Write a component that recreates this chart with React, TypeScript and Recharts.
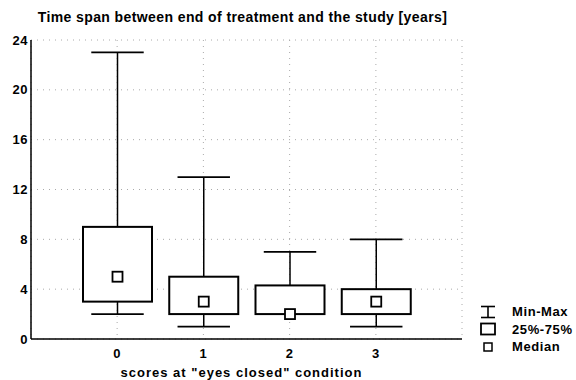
import React from 'react';
import { ComposedChart, Bar, XAxis, YAxis, CartesianGrid } from 'recharts';

const categories = ['0', '1', '2', '3'];
const minValues = [2, 1, 2, 1];
const q1Values = [3, 2, 2, 2];
const medianValues = [5, 3, 2, 3];
const q3Values = [9, 5, 4.3, 4];
const maxValues = [23, 13, 7, 8];
const yTicks = [0, 4, 8, 12, 16, 20, 24];
const rightTicks = Array.from({ length: 25 }, (_, i) => i);

const data = categories.map((c, i) => ({
  cat: c,
  min: minValues[i],
  q1: q1Values[i],
  median: medianValues[i],
  q3: q3Values[i],
  max: maxValues[i],
}));

const FONT = '"Liberation Sans", Arial, sans-serif';

const BoxShape = (props: any) => {
  const { x, y, width, height, payload } = props;
  if (!payload) return null;
  const { min, q1, median, q3, max } = payload;
  const top = Math.min(y, y + height);
  const bottom = Math.max(y, y + height);
  const span = max - min;
  const py = (v: number) => bottom - ((v - min) / span) * (bottom - top);
  const cx = x + width / 2;
  const capW = width * 0.76;
  const m = py(median);
  const ms = 5;
  return (
    <g stroke="#000" fill="none">
      <line x1={cx} x2={cx} y1={py(max)} y2={py(q3)} strokeWidth={1.5} />
      <line x1={cx} x2={cx} y1={py(q1)} y2={py(min)} strokeWidth={1.5} />
      <line x1={cx - capW / 2} x2={cx + capW / 2} y1={py(max)} y2={py(max)} strokeWidth={1.8} />
      <line x1={cx - capW / 2} x2={cx + capW / 2} y1={py(min)} y2={py(min)} strokeWidth={1.8} />
      <rect x={x} y={py(q3)} width={width} height={py(q1) - py(q3)} fill="#fff" strokeWidth={2} />
      <rect x={cx - ms} y={m - ms} width={ms * 2} height={ms * 2} fill="#fff" strokeWidth={1.8} />
    </g>
  );
};

const tickStyle = { fill: '#000', fontSize: 13, fontWeight: 'bold', fontFamily: FONT, letterSpacing: 0.5 };

export default function App() {
  return (
    <div style={{ position: 'relative', width: 576, height: 380, background: '#fff', fontFamily: FONT }}>
      <style>{`body{margin:0}`}</style>
      <div
        style={{
          position: 'absolute',
          left: 0,
          top: 9,
          width: 485,
          textAlign: 'center',
          fontSize: 14,
          letterSpacing: 0.4,
          fontWeight: 'bold',
          color: '#000',
        }}
      >
        Time span between end of treatment and the study [years]
      </div>
      <ComposedChart
        width={576}
        height={380}
        data={data}
        margin={{ top: 40, right: 114, left: 0, bottom: 0 }}
      >
        <CartesianGrid stroke="#aaa" strokeDasharray="1 5" />
        <XAxis
          dataKey="cat"
          padding={{ left: 43, right: 43 }}
          height={41}
          tick={tickStyle}
          tickLine={false}
          tickSize={0}
          tickMargin={10}
          axisLine={{ stroke: '#000', strokeWidth: 1.5 }}
          label={{
            value: 'scores at "eyes closed" condition',
            position: 'insideBottom',
            offset: 3,
            dx: -5,
            fill: '#000',
            fontSize: 13,
            letterSpacing: 1,
            fontWeight: 'bold',
            fontFamily: FONT,
          }}
        />
        <XAxis
          xAxisId="top"
          dataKey="cat"
          orientation="top"
          padding={{ left: 43, right: 43 }}
          height={0}
          mirror
          tickSize={3}
          tickFormatter={() => ''}
          tickLine={{ stroke: '#000' }}
          axisLine={{ stroke: '#000', strokeWidth: 1.5 }}
        />
        <YAxis
          domain={[0, 24]}
          ticks={yTicks}
          width={31}
          tick={tickStyle}
          tickLine={false}
          tickSize={0}
          tickMargin={3}
          interval={0}
          allowDataOverflow
          axisLine={{ stroke: '#000', strokeWidth: 1.5 }}
        />
        <YAxis
          yAxisId="right"
          orientation="right"
          domain={[0, 24]}
          ticks={rightTicks}
          interval={0}
          width={0}
          mirror
          tickSize={3}
          tickFormatter={() => ''}
          tickLine={{ stroke: '#000' }}
          axisLine={{ stroke: '#000', strokeWidth: 1.5 }}
        />
        <Bar
          dataKey={(d: any) => [d.min, d.max]}
          barSize={69}
          shape={<BoxShape />}
          isAnimationActive={false}
        />
      </ComposedChart>
      <div
        style={{
          position: 'absolute',
          left: 478,
          top: 303,
          fontSize: 13,
          letterSpacing: 0.6,
          fontWeight: 'bold',
          color: '#000',
          lineHeight: '17.5px',
        }}
      >
        {[
          { label: 'Min-Max', icon: 'minmax' },
          { label: '25%-75%', icon: 'box' },
          { label: 'Median', icon: 'median' },
        ].map((item) => (
          <div key={item.label} style={{ display: 'flex', alignItems: 'center', height: 17.5 }}>
            <svg width={34} height={16} style={{ flex: 'none' }}>
              {item.icon === 'minmax' && (
                <g stroke="#000" strokeWidth={1.6}>
                  <line x1={3} x2={17} y1={2.5} y2={2.5} />
                  <line x1={3} x2={17} y1={13.5} y2={13.5} />
                  <line x1={10} x2={10} y1={2.5} y2={13.5} />
                </g>
              )}
              {item.icon === 'box' && (
                <rect x={3} y={2.5} width={14} height={11} fill="#fff" stroke="#000" strokeWidth={1.8} />
              )}
              {item.icon === 'median' && (
                <rect x={6} y={4} width={8} height={8} fill="#fff" stroke="#000" strokeWidth={1.5} />
              )}
            </svg>
            <span>{item.label}</span>
          </div>
        ))}
      </div>
    </div>
  );
}
